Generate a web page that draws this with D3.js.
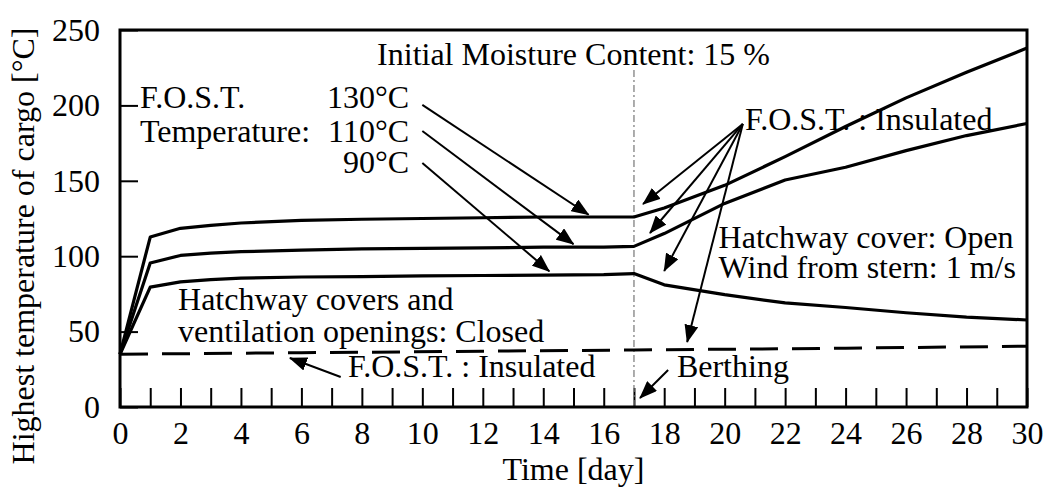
<!DOCTYPE html>
<html>
<head>
<meta charset="utf-8">
<script src="https://cdn.jsdelivr.net/npm/d3@7"></script>
<style>
  body { margin: 0; background: #fff; }
  svg text { font-family: 'Times New Roman', Tinos, 'Liberation Serif', serif; fill: #000; }
</style>
</head>
<body>
<div id="chart-area"><svg></svg></div>
<script>
// values
const days = [0, 1, 2, 3, 4, 6, 8, 10, 12, 14, 16, 17, 18, 20, 22, 24, 26, 28, 30];
const fost130 = [35, 112.7, 118.5, 120.5, 122, 123.8, 124.5, 125, 125.5, 126, 126, 126, 132, 147, 166, 186, 205, 222, 238];
const fost110 = [35, 95.5, 100.5, 102, 103, 104, 104.8, 105.2, 105.5, 106, 106, 106.5, 115, 135, 150.5, 159, 170, 180, 188];
const fost90 = [35, 79.5, 83, 84.5, 85.5, 86.2, 86.5, 87, 87.2, 87.5, 87.8, 88.5, 81, 74.5, 69, 66, 62.5, 59.6, 57.7];
const closedDays = [0, 6, 12, 17, 24, 30];
const closedTemp = [35, 36, 37, 37.8, 39, 40.3];
const berthDay = 17;
const yTicks = [0, 50, 100, 150, 200, 250];
const xTicks = d3.range(0, 31, 1);

const chartSize = { width: 1047, height: 487 };
const margin = { left: 120, right: 20, top: 30, bottom: 80 };
const width = chartSize.width - margin.left - margin.right;
const height = chartSize.height - margin.top - margin.bottom;
const fontSize = 32;

const svg = d3.select('#chart-area svg')
  .attr('width', chartSize.width)
  .attr('height', chartSize.height);

const x = d3.scaleLinear().domain([0, 30]).range([0, width]);
const y = d3.scaleLinear().domain([0, 250]).range([height, 0]);

svg.append('defs').append('marker')
  .attr('id', 'arrow')
  .attr('markerUnits', 'userSpaceOnUse')
  .attr('viewBox', '0 0 18 14')
  .attr('refX', 17).attr('refY', 7)
  .attr('markerWidth', 18).attr('markerHeight', 14)
  .attr('orient', 'auto')
  .append('path').attr('d', 'M0,0 L18,7 L0,14 Z').attr('fill', '#000');

const g = svg.append('g').attr('transform', `translate(${margin.left},${margin.top})`);

// axes, ticks pointing inward
const yAxis = d3.axisLeft(y).tickValues(yTicks).tickSizeInner(-18).tickSizeOuter(0).tickPadding(20);
const xAxis = d3.axisBottom(x).tickValues(xTicks).tickSizeInner(-19).tickSizeOuter(0).tickPadding(14)
  .tickFormat(d => d % 2 === 0 ? d : '');

const yg = g.append('g').call(yAxis);
const xg = g.append('g').attr('transform', `translate(0,${height})`).call(xAxis);
[yg, xg].forEach(a => {
  a.attr('font-size', fontSize);
  a.select('.domain').remove();
  a.selectAll('line').attr('stroke', '#000').attr('stroke-width', 2);
});

// berthing line
g.append('line')
  .attr('x1', x(berthDay)).attr('x2', x(berthDay))
  .attr('y1', 40).attr('y2', height)
  .attr('stroke', '#808080').attr('stroke-width', 1.3)
  .attr('stroke-dasharray', '7 3 2 3');

const line = d3.line().x(d => x(d[0])).y(d => y(d[1]));

[fost130, fost110, fost90].forEach(s => {
  g.append('path')
    .datum(days.map((d, i) => [d, s[i]]))
    .attr('d', line)
    .attr('fill', 'none').attr('stroke', '#000').attr('stroke-width', 3.2)
    .attr('stroke-linejoin', 'round');
});

g.append('path')
  .datum(closedDays.map((d, i) => [d, closedTemp[i]]))
  .attr('d', line)
  .attr('fill', 'none').attr('stroke', '#000').attr('stroke-width', 3)
  .attr('stroke-dasharray', '28 14');

// frame
g.append('rect')
  .attr('width', width).attr('height', height)
  .attr('fill', 'none').attr('stroke', '#000').attr('stroke-width', 3);

// annotations, positions in data units
const texts = [
  ['Initial Moisture Content: 15 %', 15, 226.8, 'middle'],
  ['F.O.S.T.', 0.66, 198.3, 'start'],
  ['Temperature:', 0.66, 175.7, 'start'],
  ['130°C', 9.56, 198.3, 'end'],
  ['110°C', 9.56, 175.7, 'end'],
  ['90°C', 9.56, 155.2, 'end'],
  ['F.O.S.T. : Insulated', 20.67, 183.7, 'start'],
  ['Hatchway cover: Open', 19.8, 105.4, 'start'],
  ['Wind from stern: 1 m/s', 19.8, 85.5, 'start'],
  ['Hatchway covers and', 1.92, 64.3, 'start'],
  ['ventilation openings: Closed', 1.92, 43.1, 'start'],
  ['F.O.S.T. : Insulated', 7.54, 19.9, 'start'],
  ['Berthing', 18.42, 19.9, 'start']
];
g.selectAll('text.note').data(texts).enter().append('text')
  .attr('class', 'note')
  .attr('x', d => x(d[1])).attr('y', d => y(d[2]))
  .attr('text-anchor', d => d[3])
  .attr('font-size', fontSize)
  .text(d => d[0]);

const arrows = [
  [[10.0, 200.3], [15.5, 127.5]],
  [[10.0, 183], [15.0, 108]],
  [[10.0, 161.8], [14.2, 90]],
  [[20.6, 187.7], [17.3, 134.6]],
  [[20.6, 187.7], [17.53, 115.4]],
  [[20.6, 187.7], [18.0, 90.2]],
  [[20.6, 187.7], [18.76, 43.1]],
  [[7.3, 19.9], [5.62, 32.5]],
  [[18.13, 24.5], [17.2, 6]]
];
g.selectAll('line.arrow').data(arrows).enter().append('line')
  .attr('class', 'arrow')
  .attr('x1', d => x(d[0][0])).attr('y1', d => y(d[0][1]))
  .attr('x2', d => x(d[1][0])).attr('y2', d => y(d[1][1]))
  .attr('stroke', '#000').attr('stroke-width', 2)
  .attr('marker-end', 'url(#arrow)');

// axis titles
g.append('text')
  .attr('x', width / 2).attr('y', height + 73)
  .attr('text-anchor', 'middle')
  .attr('font-size', fontSize)
  .text('Time [day]');

svg.append('text')
  .attr('transform', 'rotate(-90)')
  .attr('x', -246).attr('y', 34)
  .attr('text-anchor', 'middle')
  .attr('font-size', fontSize)
  .text('Highest temperature of cargo [°C]');
</script>
</body>
</html>
